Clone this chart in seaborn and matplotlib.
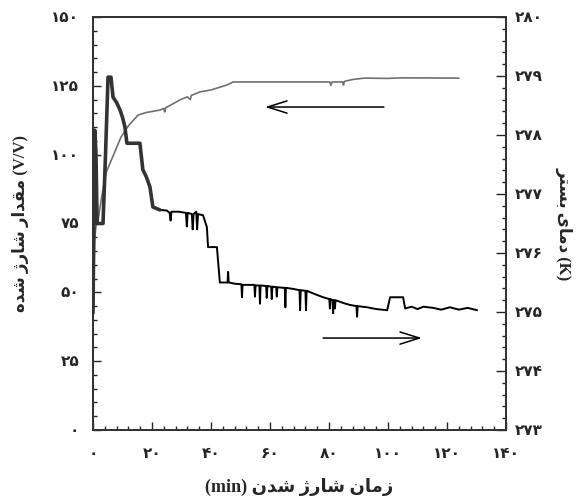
import numpy as np
import pandas as pd
import matplotlib
matplotlib.use("Agg")
import matplotlib.pyplot as plt
from matplotlib.ticker import MultipleLocator, FuncFormatter
import seaborn as sns

sns.set_style("ticks")
plt.rcParams['font.family'] = ['Liberation Serif', 'DejaVu Sans']
plt.rcParams['font.weight'] = 'bold'

# charge (left axis, V/V) against time (min)
charge_min = [0, 0.5, 1.0, 1.7, 3.0, 4.4, 7, 9.5, 12, 15.3, 18, 22.7, 24, 24.3, 24.6,
              29.5, 32, 33, 33.3, 36.3, 40, 45.4, 47.5, 80.3, 80.6, 81, 84.6, 84.9,
              85.2, 88, 92, 100, 105, 124]
charge_vv = [42, 68, 74, 76, 85, 93.4, 100, 106.4, 110.5, 114.4, 115.3, 116.2, 116.8, 115.5, 117,
             119.9, 121, 120, 121.5, 122.8, 123.5, 125.3, 126.4, 126.4, 125.2, 126.4, 126.4, 125.3,
             126.6, 127.3, 127.8, 127.7, 127.9, 127.8]

# bed temperature (right axis, K) against time (min)
temp_min = [0, 0.3, 0.6, 1.0, 1.4, 3.4, 4.2, 5.1, 6.1, 6.8, 8.0, 9.2, 10.0, 10.8, 11.5,
            15.9, 16.9, 18.0, 19.3, 20.3, 22.7, 25.0, 26.0, 26.3, 26.6, 29.0, 31.5, 31.8,
            32.1, 33.5, 33.8, 34.1, 35.0, 35.3, 35.6, 37.3, 38.6, 39.0, 42.0, 43.0, 45.6,
            45.8, 46.0, 48.0, 50.3, 50.5, 50.7, 53.2, 54.7, 54.9, 55.1, 56.4, 56.6, 56.8,
            58.7, 58.9, 59.1, 60.4, 60.6, 60.8, 62.1, 62.3, 62.5, 64.4, 65.0, 65.2, 65.4,
            68.0, 70.0, 70.2, 70.4, 72.0, 72.2, 72.4, 75.9, 78.0, 80.1, 80.3, 80.5, 81.2,
            81.4, 81.6, 81.8, 82.0, 82.2, 85.0, 87.1, 89.3, 89.5, 89.7, 92.9, 96.0, 99.7,
            100.7, 105.1, 105.8, 108, 110, 112, 115.3, 118, 121, 124, 127, 130.2]
temp_k = [274.98, 276.5, 278.08, 277.7, 276.5, 276.5, 277.6, 278.98, 278.98, 278.64, 278.55,
          278.42, 278.3, 278.14, 277.86, 277.86, 277.41, 277.3, 277.12, 276.78, 276.73,
          276.72, 276.68, 276.55, 276.7, 276.7, 276.68, 276.45, 276.68, 276.66, 276.4,
          276.66, 276.7, 276.4, 276.66, 276.64, 276.44, 276.1, 276.1, 275.5, 275.5, 275.68,
          275.5, 275.48, 275.47, 275.25, 275.46, 275.46, 275.46, 275.26, 275.45, 275.45,
          275.14, 275.45, 275.44, 275.24, 275.44, 275.43, 275.22, 275.43, 275.42, 275.26,
          275.42, 275.41, 275.41, 275.08, 275.41, 275.39, 275.37, 275.03, 275.37, 275.36,
          275.03, 275.36, 275.29, 275.25, 275.22, 275.06, 275.22, 275.2, 274.98, 275.2,
          275.2, 275.06, 275.2, 275.15, 275.12, 275.1, 274.92, 275.1, 275.08, 275.05,
          275.03, 275.25, 275.25, 275.06, 275.09, 275.05, 275.09, 275.07, 275.04, 275.08,
          275.04, 275.07, 275.03]

x_ticks = [0, 20, 40, 60, 80, 100, 120, 140]
left_ticks = [0, 25, 50, 75, 100, 125, 150]
right_ticks = [273, 274, 275, 276, 277, 278, 279, 280]

xlabel_fa = "زمان شارژ شدن"
ylabel_fa = "مقدار شارژ شده"
y2label_fa = "دمای بستر"

# contextual forms for the letters used (isolated, final, initial, medial)
FORMS = {
    'ا': ('\uFE8D', '\uFE8E', None, None),
    'ب': ('\uFE8F', '\uFE90', '\uFE91', '\uFE92'),
    'ت': ('\uFE95', '\uFE96', '\uFE97', '\uFE98'),
    'د': ('\uFEA9', '\uFEAA', None, None),
    'ر': ('\uFEAD', '\uFEAE', None, None),
    'ز': ('\uFEAF', '\uFEB0', None, None),
    'ژ': ('\uFB8A', '\uFB8B', None, None),
    'س': ('\uFEB1', '\uFEB2', '\uFEB3', '\uFEB4'),
    'ش': ('\uFEB5', '\uFEB6', '\uFEB7', '\uFEB8'),
    'ق': ('\uFED5', '\uFED6', '\uFED7', '\uFED8'),
    'م': ('\uFEE1', '\uFEE2', '\uFEE3', '\uFEE4'),
    'ن': ('\uFEE5', '\uFEE6', '\uFEE7', '\uFEE8'),
    'ه': ('\uFEE9', '\uFEEA', '\uFEEB', '\uFEEC'),
    'ی': ('\uFBFC', '\uFBFD', '\uFBFE', '\uFBFF'),
}


def shape(text):
    # join letters and put them in visual (right to left) order
    out = []
    for i, ch in enumerate(text):
        if ch not in FORMS:
            out.append(ch)
            continue
        prev = text[i - 1] if i > 0 else ''
        nxt = text[i + 1] if i + 1 < len(text) else ''
        jp = prev in FORMS and FORMS[prev][2] is not None
        jn = FORMS[ch][2] is not None and nxt in FORMS
        iso, fin, ini, med = FORMS[ch]
        if jp and jn:
            out.append(med)
        elif jp:
            out.append(fin)
        elif jn:
            out.append(ini)
        else:
            out.append(ch)
    return ''.join(reversed(out))


def fa_num(v, pos=None):
    return str(int(round(v))).translate(str.maketrans('0123456789', '۰۱۲۳۴۵۶۷۸۹'))


charge = pd.DataFrame({'time': charge_min, 'charge': charge_vv})
temp = pd.DataFrame({'time': temp_min, 'temp': temp_k})

fig = plt.figure(figsize=(5.83, 5.04), dpi=100)
ax = fig.add_axes([0.1595, 0.1468, 0.7085, 0.8195])
ax2 = ax.twinx()

sns.lineplot(data=charge, x='time', y='charge', ax=ax, color='#707070', lw=1.2,
             estimator=None, sort=False)
sns.lineplot(data=temp, x='time', y='temp', ax=ax2, color='black', lw=1.4,
             estimator=None, sort=False)
# the early part of the temperature trace is a noisy band
sns.lineplot(data=temp[temp['time'] <= 23], x='time', y='temp', ax=ax2, color='#333333',
             lw=2.6, estimator=None, sort=False)

ax.set_xlim(0, 140)
ax.set_ylim(0, 150)
ax2.set_ylim(273, 280)
ax.set_xticks(x_ticks)
ax.set_yticks(left_ticks)
ax2.set_yticks(right_ticks)
ax.xaxis.set_minor_locator(MultipleLocator(4))
ax.yaxis.set_minor_locator(MultipleLocator(5))
ax2.yaxis.set_minor_locator(MultipleLocator(0.2))
for a in (ax.xaxis, ax.yaxis, ax2.yaxis):
    a.set_major_formatter(FuncFormatter(fa_num))

ax.tick_params(axis='x', which='major', direction='in', length=6, width=1, pad=13, labelsize=11)
ax.tick_params(axis='x', which='minor', direction='in', length=3, width=1)
ax.tick_params(axis='y', which='major', direction='in', length=6, width=1, pad=10, labelsize=11)
ax.tick_params(axis='y', which='minor', direction='in', length=3, width=1)
ax2.tick_params(axis='y', which='major', direction='in', length=7, width=1, pad=6, labelsize=11)
ax2.tick_params(axis='y', which='minor', direction='in', length=3, width=1)

for a in (ax, ax2):
    for s in a.spines.values():
        s.set_linewidth(1.3)
        s.set_color('#333333')

ax.set_xlabel("(min) " + shape(xlabel_fa), fontsize=13, fontweight='bold', labelpad=12)
ax.set_ylabel(shape(ylabel_fa) + " (V/V)", fontsize=12, fontweight='bold', labelpad=16)
ax2.set_ylabel(shape(y2label_fa) + " (K)", fontsize=12, fontweight='bold', rotation=-90,
               labelpad=22)

arrow = dict(arrowstyle='->,head_length=0.7,head_width=0.22', lw=1.1, color='black',
             mutation_scale=20, shrinkA=0, shrinkB=0)
ax.annotate('', xy=(58.3, 117.3), xytext=(98.6, 117.3), arrowprops=arrow)
ax.annotate('', xy=(111.5, 33.4), xytext=(78, 33.4), arrowprops=arrow)

fig.savefig('out.png', dpi=100)
